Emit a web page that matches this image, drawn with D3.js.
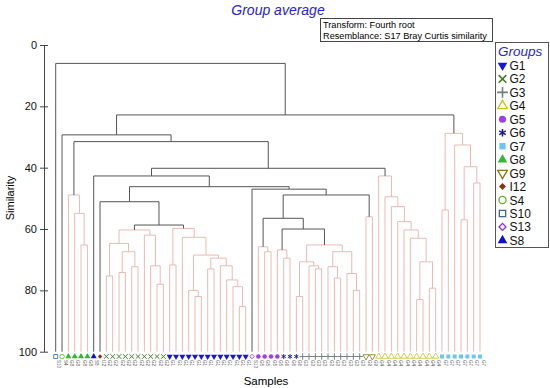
<!DOCTYPE html>
<html>
<head>
<meta charset="utf-8">
<script src="https://cdn.jsdelivr.net/npm/d3@7"></script>
<style>
  body { margin: 0; background: #fff; }
  svg { display: block; font-family: Arial, "Liberation Sans", sans-serif; }
</style>
</head>
<body>
<div id="chart"></div>
<script>
// legend groups, in legend order
const groups = ["G1", "G2", "G3", "G4", "G5", "G6", "G7", "G8", "G9", "I12", "S4", "S10", "S13", "S8"];

// leaves left to right, as runs of [group, count]
const leafRuns = [["S10", 1], ["S4", 1], ["G8", 4], ["S8", 1], ["I12", 1], ["G2", 10], ["G1", 13],
    ["S13", 1], ["G5", 4], ["G6", 3], ["G3", 10], ["G9", 2], ["G4", 10], ["G7", 7]];

// merges: [id, left, right, similarity, significant]; numbers are leaf indices
const merges = [
    ["g8a", 4, 5, 65.2, false], ["g8b", 3, "g8a", 54.9, false], ["g8", 2, "g8b", 48.9, false],
    ["x1a", 8, 9, 75.3, false], ["x1c", 10, 11, 74.2, false], ["x1d", 12, 13, 72.3, false],
    ["x1b", "x1c", "x1d", 67.4, false], ["x1", "x1a", "x1b", 64.7, false],
    ["x2c", 16, 17, 78, false], ["x2b", 15, "x2c", 72, false], ["x2", 14, "x2b", 62, false],
    ["xg", "x1", "x2", 60.3, false],
    ["v1", 18, 19, 71.7, false], ["v3", 22, 23, 82, false], ["v2", 21, "v3", 80, false],
    ["v5", 24, 25, 73, false], ["v9", 29, 30, 85.3, false], ["v8", 28, "v9", 78.8, false],
    ["v7", 27, "v8", 76.6, false], ["v6", 26, "v7", 72, false], ["v4", "v5", "v6", 69.5, false],
    ["vr2", "v2", "v4", 68.5, false], ["vr", 20, "vr2", 62.7, false], ["vq", "v1", "vr", 59.8, false],
    ["P", "xg", "vq", 58.7, true], ["O", 7, "P", 51.1, true],
    ["m1", 33, 34, 67.4, false], ["M", 32, "m1", 65.8, false],
    ["k1", 36, 37, 69.5, false], ["K", 35, "k1", 66.8, false],
    ["la1", 38, 39, 82, false], ["la3", 41, 42, 73, false], ["la2", 40, "la3", 72, false],
    ["La", "la1", "la2", 70.7, false],
    ["lb2", 44, 45, 76, false], ["lb1", 43, "lb2", 72.3, false], ["lb4", 47, 48, 80, false],
    ["lb3", 46, "lb4", 74.5, false], ["Lb", "lb1", "lb3", 67.4, false],
    ["L", "La", "Lb", 65.2, false], ["J", "K", "L", 60, true], ["I", "M", "J", 56.5, true],
    ["T", 49, 50, 56, false], ["H", "I", "T", 48.9, true], ["G", 31, "H", 47, true],
    ["F", "O", "G", 46.2, true], ["E", 6, "F", 42.7, true],
    ["n9", 59, 60, 79.3, false], ["n8", 57, 58, 83, false], ["n7", "n8", "n9", 70.7, false],
    ["n6", 56, "n7", 63, false], ["n5", 55, "n6", 60.3, false], ["n4", 54, "n5", 57.6, false],
    ["n3", 53, "n4", 52.7, false], ["n2", 52, "n3", 49.5, false], ["N", 51, "n2", 42.7, false],
    ["D", "E", "N", 40.2, true], ["C", "g8", "D", 31.5, true], ["B", 1, "C", 29.3, true],
    ["q1", 61, 62, 53.8, false], ["q4", 64, 65, 57, false], ["q5", 66, 67, 45, false],
    ["q3", "q4", "q5", 39.7, false], ["q2", 63, "q3", 32.6, false], ["Q", "q1", "q2", 28.8, false],
    ["A", "B", "Q", 22.8, true], ["root", 0, "A", 6, true]
];

const yTicks = [0, 20, 40, 60, 80, 100];

const style = {
    G1:  {shape: "triDown", color: "#1414e6", fill: true},
    G2:  {shape: "times", color: "#3f7a22", fill: false},
    G3:  {shape: "plus", color: "#6f7f7f", fill: false},
    G4:  {shape: "tri", color: "#c9c21c", fill: false},
    G5:  {shape: "circle", color: "#a03cf0", fill: true},
    G6:  {shape: "asterisk", color: "#1c1c8c", fill: false},
    G7:  {shape: "square", color: "#6cc6f4", fill: true},
    G8:  {shape: "tri", color: "#34b834", fill: true},
    G9:  {shape: "triDown", color: "#7c7a12", fill: false},
    I12: {shape: "diamond", color: "#8a3410", fill: true},
    S4:  {shape: "circle", color: "#5cb82a", fill: false},
    S10: {shape: "square", color: "#3a6888", fill: false},
    S13: {shape: "diamond", color: "#8a2ad8", fill: false},
    S8:  {shape: "tri", color: "#1010d0", fill: true}
};

const leaves = leafRuns.flatMap(([g, n]) => d3.range(n).map(() => g));

const svg = d3.select("#chart").append("svg")
    .attr("width", 550)
    .attr("height", 388);

const x = d3.scalePoint().domain(d3.range(leaves.length)).range([55.7, 480]);
const y = d3.scaleLinear().domain([0, 100]).range([45, 351.7]);

// positions of nodes
const nodes = new Map();
leaves.forEach((g, i) => nodes.set(i, {x: x(i), sim: 100}));
merges.forEach(([id, a, b, s, sig]) => {
    const na = nodes.get(a), nb = nodes.get(b);
    nodes.set(id, {x: (na.x + nb.x) / 2, sim: s, sig: sig, a: na, b: nb});
});

const links = merges.map(([id]) => nodes.get(id));
links.sort((p, q) => p.sig - q.sig);

svg.append("g").selectAll("path")
    .data(links)
    .join("path")
    .attr("fill", "none")
    .attr("stroke", d => d.sig ? "#555" : "#ebb9b3")
    .attr("stroke-width", 1)
    .attr("d", d => `M${d.a.x},${y(d.a.sim)}V${y(d.sim)}H${d.b.x}V${y(d.b.sim)}`);

// y axis
const ax = svg.append("g")
    .attr("transform", "translate(44,0)")
    .call(d3.axisLeft(y).tickValues(yTicks).tickSize(4).tickSizeOuter(0));
ax.selectAll(".tick line").attr("x1", 4);
ax.selectAll("line,path").attr("stroke", "#444");
ax.selectAll("text").attr("font-size", 11).attr("font-family", "Arial, 'Liberation Sans', sans-serif").attr("fill", "#111");

svg.append("text")
    .attr("transform", "translate(14,198) rotate(-90)")
    .attr("text-anchor", "middle")
    .attr("font-size", 11)
    .text("Similarity");

svg.append("text")
    .attr("x", 266).attr("y", 385)
    .attr("text-anchor", "middle")
    .attr("font-size", 11.5)
    .text("Samples");

// symbols
function symbolPath(shape, size) {
    const types = {
        tri: d3.symbolTriangle, triDown: d3.symbolTriangle, circle: d3.symbolCircle,
        square: d3.symbolSquare, diamond: d3.symbolSquare,
        times: d3.symbolTimes || d3.symbolCross, plus: d3.symbolPlus || d3.symbolCross,
        asterisk: d3.symbolAsterisk || d3.symbolCross
    };
    return d3.symbol(types[shape], shape === "diamond" ? size * 0.6 : size)();
}
function drawSymbol(g, grp, size, sw) {
    const st = style[grp];
    const stroke = ["times", "plus", "asterisk"].includes(st.shape);
    let rot = st.shape === "triDown" ? 180 : st.shape === "diamond" ? 45 : 0;
    if (st.shape === "times" && !d3.symbolTimes) rot = 45;
    g.append("path")
        .attr("d", symbolPath(st.shape, size))
        .attr("transform", `rotate(${rot})`)
        .attr("fill", st.fill ? st.color : "none")
        .attr("stroke", st.color)
        .attr("stroke-width", stroke ? sw * 1.2 : (st.fill ? 0 : sw));
}

const leafG = svg.append("g").selectAll("g")
    .data(leaves)
    .join("g")
    .attr("transform", (d, i) => `translate(${x(i)},356.5)`);
leafG.each(function(d) { drawSymbol(d3.select(this), d, 16, 0.8); });

svg.append("g").selectAll("text")
    .data(leaves)
    .join("text")
    .attr("transform", (d, i) => `translate(${x(i) + 1.6},360) rotate(90)`)
    .attr("font-size", 4.5)
    .attr("fill", "#555")
    .text(d => d);

// title and info box
svg.append("text")
    .attr("x", 278).attr("y", 15)
    .attr("text-anchor", "middle")
    .attr("font-size", 14)
    .attr("font-style", "italic")
    .attr("fill", "#2626c8")
    .text("Group average");

svg.append("rect")
    .attr("x", 320.5).attr("y", 18.5).attr("width", 172).attr("height", 23)
    .attr("fill", "#fff").attr("stroke", "#444");
svg.append("text").attr("x", 323).attr("y", 27.5).attr("font-size", 9.2).text("Transform: Fourth root");
svg.append("text").attr("x", 323).attr("y", 38.5).attr("font-size", 9.2).text("Resemblance: S17 Bray Curtis similarity");

// legend
const lg = svg.append("g");
lg.append("rect")
    .attr("x", 495.5).attr("y", 42.5).attr("width", 53).attr("height", 205)
    .attr("fill", "#fff").attr("stroke", "#555");
lg.append("text")
    .attr("x", 498).attr("y", 55.5)
    .attr("font-size", 13.5).attr("font-style", "italic").attr("fill", "#2626c8")
    .text("Groups");
const items = lg.selectAll("g.item")
    .data(groups)
    .join("g")
    .attr("class", "item")
    .attr("transform", (d, i) => `translate(502.5,${65.5 + i * 13.45})`);
items.each(function(d) { drawSymbol(d3.select(this), d, 40, 1.3); });
items.append("text")
    .attr("x", 7).attr("y", 4.5)
    .attr("font-size", 12)
    .attr("fill", "#111")
    .text(d => d);
</script>
</body>
</html>
